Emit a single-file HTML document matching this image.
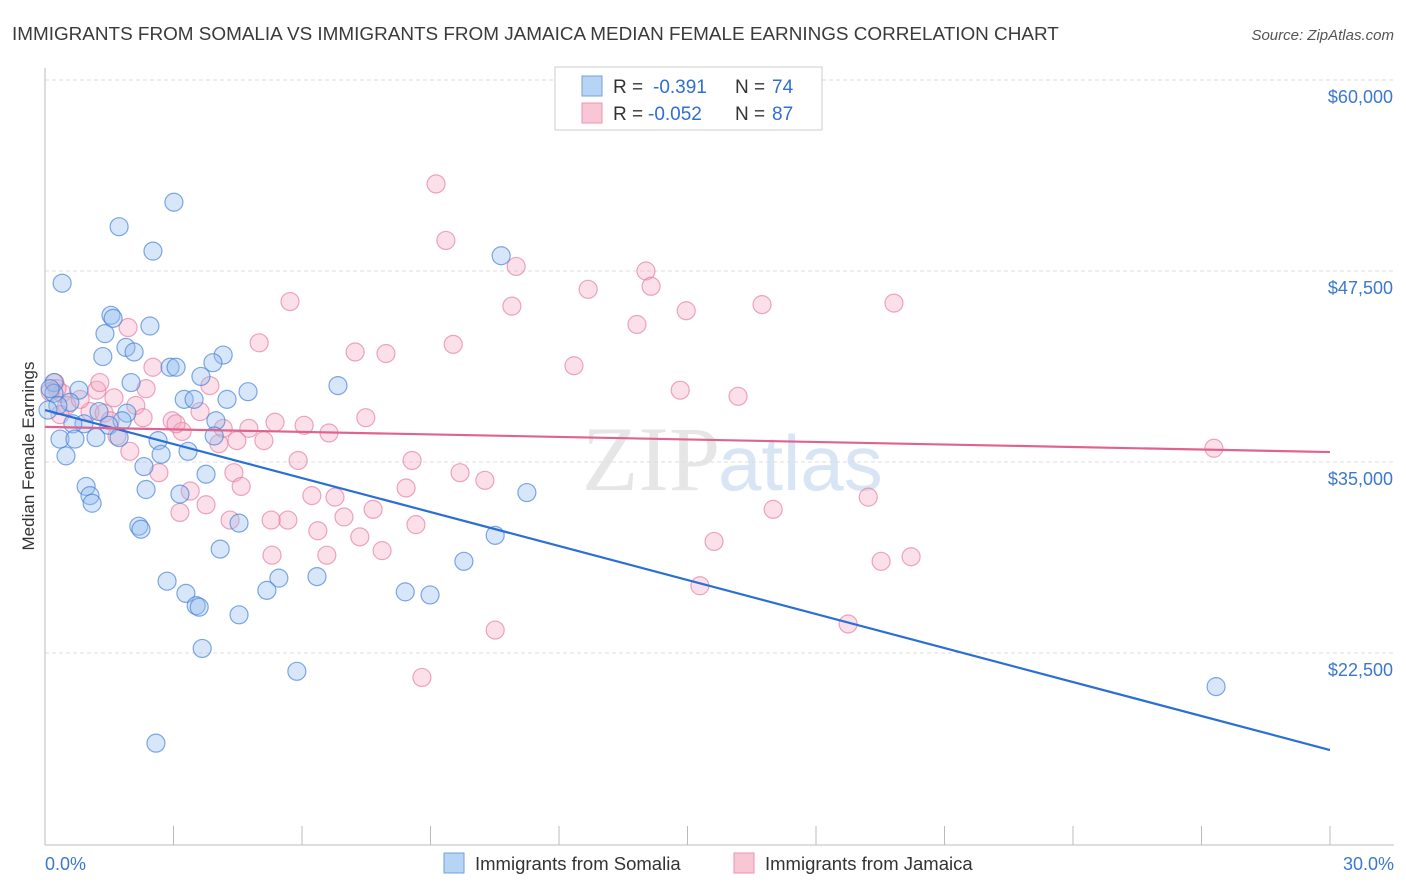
<!DOCTYPE html>
<html><head><meta charset="utf-8"><style>
body{margin:0;background:#fff;font-family:"Liberation Sans",sans-serif}
svg{display:block}
</style></head><body>
<svg id="c" width="1406" height="892" xmlns="http://www.w3.org/2000/svg">
<text x="12" y="40" font-size="18.9" fill="#3a3a3a">IMMIGRANTS FROM SOMALIA VS IMMIGRANTS FROM JAMAICA MEDIAN FEMALE EARNINGS CORRELATION CHART</text>
<text x="1394" y="40" font-size="15" fill="#555" font-style="italic" text-anchor="end">Source: ZipAtlas.com</text>
<text x="720" y="490" font-size="92" fill="#e6e6e6" text-anchor="end" font-family="Liberation Serif">ZIP</text>
<text x="718" y="490" font-size="78" fill="#d8e5f4">atlas</text>
<g id="grid"></g><g id="axes"></g><g id="pts"></g><g id="lines"></g>
<text transform="translate(34,456) rotate(-90)" font-size="17" fill="#333" text-anchor="middle">Median Female Earnings</text>
<text x="45" y="870" font-size="18" fill="#3b78d0">0.0%</text>
<text x="1394" y="870" font-size="18" fill="#3b78d0" text-anchor="end">30.0%</text>
<g>
<rect x="555" y="67" width="267" height="63" fill="#fff" stroke="#ccc"/>
<rect x="582" y="76" width="20" height="20" fill="#b8d4f5" stroke="#6f9fe0"/>
<rect x="582" y="103" width="20" height="20" fill="#f9c6d6" stroke="#e896b2"/>
<text x="613" y="93" font-size="19" fill="#333">R =</text>
<text x="653" y="93" font-size="19" fill="#2f6fd0">-0.391</text>
<text x="735" y="93" font-size="19" fill="#333">N =</text>
<text x="772" y="93" font-size="19" fill="#2f6fd0">74</text>
<text x="613" y="120" font-size="19" fill="#333">R =</text>
<text x="648" y="120" font-size="19" fill="#2f6fd0">-0.052</text>
<text x="735" y="120" font-size="19" fill="#333">N =</text>
<text x="772" y="120" font-size="19" fill="#2f6fd0">87</text>
</g>
<g>
<rect x="444" y="853" width="20" height="20" fill="#b8d4f5" stroke="#6f9fe0"/>
<text x="475" y="870" font-size="18.5" fill="#333">Immigrants from Somalia</text>
<rect x="734" y="853" width="20" height="20" fill="#f9c6d6" stroke="#e896b2"/>
<text x="765" y="870" font-size="18.5" fill="#333">Immigrants from Jamaica</text>
</g>
</svg>
<script>
const yTicks=[22500,35000,47500,60000];
const yTickLabels=["$22,500","$35,000","$47,500","$60,000"];
const xTicks=[0,3,6,9,12,15,18,21,24,27,30];
const somaliaX=[0.40,1.73,3.01,2.52,10.65,1.54,1.59,2.45,1.40,1.35,1.89,2.08,2.92,3.06,4.16,3.92,2.01,0.79,0.21,0.21,0.58,0.30,1.26,1.91,3.25,3.48,3.64,4.25,4.74,6.84,3.99,1.80,1.49,0.91,0.65,1.19,1.73,0.35,0.70,2.64,3.95,0.49,2.71,3.34,2.31,3.76,0.96,2.36,3.15,1.05,1.10,11.25,2.19,2.24,4.53,4.09,10.51,9.78,2.85,6.35,5.46,3.29,5.18,8.41,8.99,3.53,3.60,4.53,3.67,5.88,27.34,2.59,0.12,0.07];
const somaliaY=[46700,50400,52000,48800,48500,44600,44400,43900,43400,41900,42500,42200,41200,41200,42000,41500,40200,39700,40200,39500,38900,38700,38300,38200,39100,39100,40600,39100,39600,40000,37700,37700,37400,37500,37500,36600,36600,36500,36500,36400,36700,35400,35500,35700,34700,34200,33400,33200,32900,32800,32300,33000,30800,30600,31000,29300,30200,28500,27200,27500,27400,26400,26600,26500,26300,25600,25500,25000,22800,21300,20300,16600,39800,38400];
const jamaicaX=[9.13,9.36,11.00,14.03,14.15,12.68,5.72,10.90,14.97,16.74,19.82,13.82,1.94,5.00,9.53,7.24,7.96,12.35,2.52,0.23,1.21,14.83,3.85,2.36,16.18,0.40,1.61,2.12,3.62,0.51,2.29,2.97,1.05,1.38,4.76,5.37,6.05,6.63,7.49,4.16,3.20,1.68,4.06,4.48,5.11,1.98,27.29,5.91,8.57,4.41,2.66,9.69,10.27,4.58,8.43,3.39,6.23,6.77,19.22,3.15,3.76,7.66,6.98,5.67,5.28,4.32,6.37,8.66,7.35,17.00,15.62,7.87,5.30,6.58,19.52,20.22,15.29,18.75,10.51,8.80,3.06,0.82,1.28,0.28,0.35,0.12,1.52];
const jamaicaY=[53200,49500,47800,47500,46500,46300,45500,45200,44900,45300,45400,44000,43800,42800,42700,42200,42100,41300,41200,40200,39700,39700,40000,39800,39300,39500,39200,38700,38300,38700,37900,37700,38300,38200,37200,37600,37400,36900,37900,37200,37000,36700,36200,36400,36400,35700,35900,35100,35100,34300,34300,34300,33800,33400,33300,33100,32800,32700,32700,31700,32200,31900,31400,31200,31200,31200,30500,30900,30100,31900,29800,29200,28900,28900,28500,28800,26900,24400,24000,20900,37500,39100,40200,39800,38100,39600,37700];
const trendX=[0,30];
const somaliaTrend=[38400,16150];
const jamaicaTrend=[37300,35650];
const NS="http://www.w3.org/2000/svg";
const x=p=>45+p/30*1285;
const y=v=>80+(60000-v)*191/12500;
function mk(tag,attrs,parent){const e=document.createElementNS(NS,tag);for(const k in attrs)e.setAttribute(k,attrs[k]);parent.appendChild(e);return e;}
const grid=document.getElementById('grid'),axes=document.getElementById('axes'),pts=document.getElementById('pts'),lines=document.getElementById('lines');
yTicks.forEach((t,i)=>{
 const g=mk('line',{x1:45,x2:1394,y1:y(t),y2:y(t),stroke:'#ddd','stroke-dasharray':'4,3'},grid);
 
 
 const l=mk('text',{x:1393,y:y(t)+23,'font-size':18,fill:'#3b78d0','text-anchor':'end'},axes);
 l.textContent=yTickLabels[i];
 
 
});
const ya=mk('line',{x1:45,x2:45,y1:68,y2:845,stroke:'#bbb'},axes);


const xa=mk('line',{x1:45,x2:1394,y1:845,y2:845,stroke:'#bbb'},axes);


xTicks.forEach(t=>{
 const k=mk('line',{x1:x(t),x2:x(t),y1:826,y2:845,stroke:'#bbb'},axes);
 
 
});
function series(X,Y,fill,stroke,name){
 X.forEach((v,i)=>{
  const c=mk('circle',{cx:x(v),cy:y(Y[i]),r:9,fill:fill,stroke:stroke,'stroke-width':1.2},pts);
  
  
 });
}
series(jamaicaX,jamaicaY,'rgba(245,168,195,0.36)','rgba(228,120,158,0.65)','jamaica-point');
series(somaliaX,somaliaY,'rgba(150,190,240,0.38)','rgba(60,125,215,0.65)','somalia-point');
const lb=mk('line',{x1:x(trendX[0]),y1:y(somaliaTrend[0]),x2:x(trendX[1]),y2:y(somaliaTrend[1]),stroke:'#2a6fd6','stroke-width':2.2},lines);


const lp=mk('line',{x1:x(trendX[0]),y1:y(jamaicaTrend[0]),x2:x(trendX[1]),y2:y(jamaicaTrend[1]),stroke:'#e0638f','stroke-width':2.2},lines);


</script>
</body></html>
